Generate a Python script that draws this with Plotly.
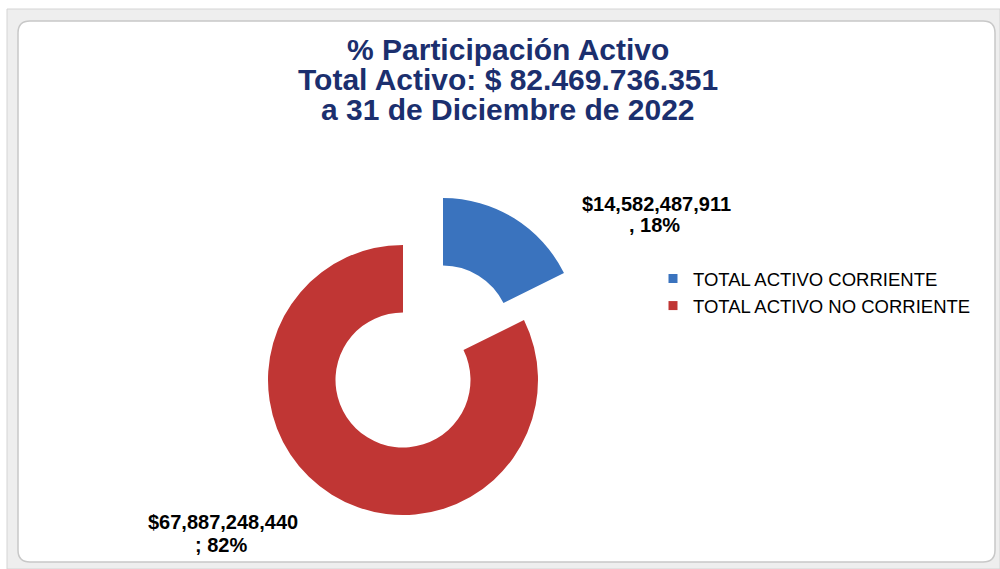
import plotly.graph_objects as go

# ---------------- data ----------------
categories = ["TOTAL ACTIVO CORRIENTE", "TOTAL ACTIVO NO CORRIENTE"]
values = [14582487911, 67887248440]
label_separators = [", ", "; "]
colors = ["#3A73BE", "#C03634"]
title_lines = [
    "% Participación Activo",
    "Total Activo: $ 82.469.736.351",
    "a 31 de Diciembre de 2022",
]

W, H = 1000, 569
FONT = "Liberation Sans, Arial, sans-serif"


def px(x):
    return x / W


def py(y):
    return 1 - y / H


def domain(cx, cy, r):
    return dict(x=[px(cx - r), px(cx + r)], y=[py(cy + r), py(cy - r)])


total = sum(values)
R = 135
main_colors = ["rgba(0,0,0,0)", colors[1]]
expl_colors = [colors[0], "rgba(0,0,0,0)"]

fig = go.Figure()
fig.add_trace(go.Pie(
    labels=categories, values=values, sort=False, direction="clockwise",
    rotation=0, hole=0.5, textinfo="none", showlegend=False,
    marker=dict(colors=main_colors, line=dict(width=0)),
    domain=domain(403, 380, R), hoverinfo="label+value+percent",
))
fig.add_trace(go.Pie(
    labels=categories, values=values, sort=False, direction="clockwise",
    rotation=0, hole=0.5, textinfo="none", showlegend=False,
    marker=dict(colors=expl_colors, line=dict(width=0)),
    domain=domain(443, 333, R), hoverinfo="label+value+percent",
))
for cat, col in zip(categories, colors):
    fig.add_trace(go.Scatter(
        x=[None], y=[None], mode="markers", name=cat,
        marker=dict(symbol="square", size=9, color=col),
    ))

annotations = []
for t, y in zip(title_lines, [49, 79.5, 110]):
    annotations.append(dict(
        x=px(508), y=py(y), xref="paper", yref="paper", showarrow=False,
        xanchor="center", yanchor="middle", text=f"<b>{t}</b>",
        font=dict(family=FONT, size=30, color="#1B2F6E"),
    ))

label_pos = [((656, 204), (654, 225)), ((223, 522), (221, 545))]
for v, sep, (p1, p2) in zip(values, label_separators, label_pos):
    pct = round(v / total * 100)
    for txt, (lx, ly) in ((f"${v:,}", p1), (f"{sep}{pct}%", p2)):
        annotations.append(dict(
            x=px(lx), y=py(ly), xref="paper", yref="paper", showarrow=False,
            xanchor="center", yanchor="middle", text=f"<b>{txt}</b>",
            font=dict(family=FONT, size=20, color="#000000"),
        ))

shapes = [
    dict(type="rect", xref="paper", yref="paper", layer="below",
         x0=px(7), x1=px(1000), y0=py(569), y1=py(9),
         fillcolor="#EEEEEE", line=dict(color="#D4D4D4", width=1)),
]
x0, y0, x1, y1, rr = 18, 21, 995, 562, 12
path = (f"M {px(x0+rr)},{py(y0)} L {px(x1-rr)},{py(y0)} "
        f"Q {px(x1)},{py(y0)} {px(x1)},{py(y0+rr)} L {px(x1)},{py(y1-rr)} "
        f"Q {px(x1)},{py(y1)} {px(x1-rr)},{py(y1)} L {px(x0+rr)},{py(y1)} "
        f"Q {px(x0)},{py(y1)} {px(x0)},{py(y1-rr)} L {px(x0)},{py(y0+rr)} "
        f"Q {px(x0)},{py(y0)} {px(x0+rr)},{py(y0)} Z")
shapes.append(dict(type="path", xref="paper", yref="paper", layer="below",
                   path=path, fillcolor="#FFFFFF",
                   line=dict(color="#C8C8C8", width=1.5)))

fig.update_layout(
    width=W, height=H, autosize=False,
    margin=dict(l=0, r=0, t=0, b=0),
    paper_bgcolor="#FFFFFF", plot_bgcolor="rgba(0,0,0,0)",
    xaxis=dict(visible=False), yaxis=dict(visible=False),
    showlegend=True,
    legend=dict(x=px(653), y=py(260), xanchor="left", yanchor="top",
                bgcolor="rgba(0,0,0,0)",
                font=dict(family=FONT, size=18.5, color="#000000"),
                itemwidth=30, tracegroupgap=0),
    annotations=annotations, shapes=shapes,
)

fig.write_html("out.html", config={"displayModeBar": False},
               post_script="document.body.style.margin='0';document.body.style.overflow='hidden';")
